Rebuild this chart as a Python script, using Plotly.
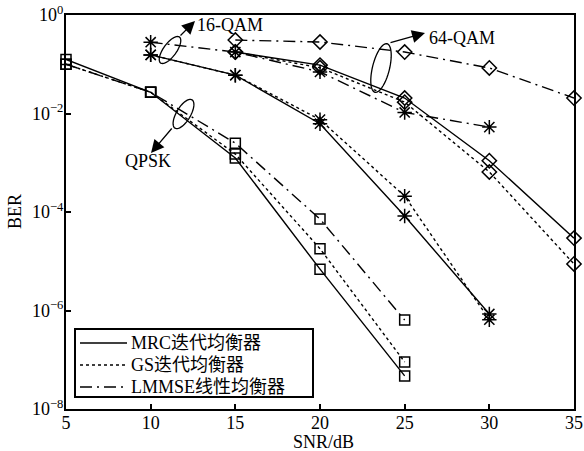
import math
import plotly.graph_objects as go

# SNR grids (dB) for each modulation
QPSK_SNR = [5, 10, 15, 20, 25]
QAM16_SNR = [10, 15, 20, 25, 30]
QAM64_SNR = [15, 20, 25, 30, 35]

# BER curves
QPSK_MRC = [0.125, 0.027, 1.25e-3, 6.9e-6, 4.7e-8]
QPSK_GS = [0.10, 0.027, 1.5e-3, 1.8e-5, 9.0e-8]
QPSK_LMMSE = [0.10, 0.027, 2.5e-3, 7.2e-5, 6.4e-7]

QAM16_MRC = [0.155, 0.060, 6.2e-3, 8.3e-5, 8.5e-7]
QAM16_GS = [0.155, 0.060, 7.5e-3, 2.1e-4, 6.5e-7]
QAM16_LMMSE = [0.28, 0.177, 0.070, 0.0105, 5.3e-3]

QAM64_MRC = [0.177, 0.096, 0.0206, 1.1e-3, 2.95e-5]
QAM64_GS = [0.177, 0.085, 0.017, 6.5e-4, 8.8e-6]
QAM64_LMMSE = [0.31, 0.283, 0.177, 0.084, 0.0206]

METHOD_NAMES = ["MRC迭代均衡器", "GS迭代均衡器", "LMMSE线性均衡器"]
X_TICKS = [5, 10, 15, 20, 25, 30, 35]
Y_TICKS = [1, 1e-2, 1e-4, 1e-6, 1e-8]
Y_TICK_TEXT = ["10<sup>0</sup>", "10<sup>−2</sup>", "10<sup>−4</sup>",
               "10<sup>−6</sup>", "10<sup>−8</sup>"]
X_TITLE = "SNR/dB"
Y_TITLE = "BER"

FONT = "Liberation Serif, Times New Roman, Noto Sans CJK SC, serif"
DASHES = ["solid", "3px,3px", "12px,5px,2px,5px"]

W, H = 584, 451
ML, MR, MT, MB = 66, 10, 15, 42
PW, PH = W - ML - MR, H - MT - MB

fig = go.Figure()

groups = [
    (QPSK_SNR, [QPSK_MRC, QPSK_GS, QPSK_LMMSE], "square-open", 10),
    (QAM16_SNR, [QAM16_MRC, QAM16_GS, QAM16_LMMSE], "asterisk-open", 12),
    (QAM64_SNR, [QAM64_MRC, QAM64_GS, QAM64_LMMSE], "diamond-open", 11),
]
for snr, curves, sym, size in groups:
    for ber, dash, name in zip(curves, DASHES, METHOD_NAMES):
        fig.add_trace(go.Scatter(
            x=snr, y=ber, mode="lines+markers", showlegend=False, name=name,
            cliponaxis=False,
            line=dict(color="black", width=1.4, dash=dash),
            marker=dict(symbol=sym, size=size, color="black",
                        line=dict(color="black", width=1.5)),
        ))


def to_paper(px, py):
    return (px - ML) / PW, (H - MB - py) / PH


def ellipse_path(cx, cy, a, b, tilt_deg, n=60):
    th = math.radians(tilt_deg)
    pts = []
    for i in range(n):
        t = 2 * math.pi * i / n
        u, v = b * math.cos(t), a * math.sin(t)
        px = cx + u * math.cos(th) + v * math.sin(th)
        py = cy + u * math.sin(th) - v * math.cos(th)
        pts.append(to_paper(px, py))
    return "M" + " L".join(f"{x:.5f},{y:.5f}" for x, y in pts) + " Z"


def label(text, px, py, xanchor="center", angle=0):
    x, y = to_paper(px, py)
    return dict(x=x, y=y, xref="paper", yref="paper", text=text,
                showarrow=False, xanchor=xanchor, yanchor="middle",
                textangle=angle,
                font=dict(family=FONT, size=18, color="black"))


shapes = []
for cx, cy, a, b, tilt in [(170, 50, 16, 6.5, 36),
                           (381, 68, 25, 8.5, 14),
                           (183.5, 114, 16.5, 7, 31)]:
    shapes.append(dict(type="path", xref="paper", yref="paper",
                       path=ellipse_path(cx, cy, a, b, tilt),
                       line=dict(color="black", width=1.3)))

annotations = []
for (tx, ty), (hx, hy) in [((179, 37), (195, 21)),
                           ((389, 43), (425, 33)),
                           ((173, 127), (151, 153))]:
    x, y = to_paper(hx, hy)
    annotations.append(dict(x=x, y=y, xref="paper", yref="paper", text="",
                            showarrow=True, ax=tx - hx, ay=ty - hy,
                            arrowhead=2, arrowsize=2.0, arrowwidth=1.3,
                            arrowcolor="black"))

annotations += [label("16-QAM", 195, 25, "left"),
                label("64-QAM", 427, 38, "left"),
                label("QPSK", 148, 161),
                label(X_TITLE, 323, 442),
                label(Y_TITLE, 15, 212, angle=-90)]

# boxed legend: line-style samples with method names
LEG_X0, LEG_Y0, LEG_X1, LEG_Y1 = 75, 329, 313, 397
bx0, by0 = to_paper(LEG_X0, LEG_Y0)
bx1, by1 = to_paper(LEG_X1, LEG_Y1)
shapes.append(dict(type="rect", xref="paper", yref="paper",
                   x0=bx0, y0=by1, x1=bx1, y1=by0,
                   fillcolor="white", line=dict(color="black", width=2),
                   layer="above"))
for i, (name, dash) in enumerate(zip(METHOD_NAMES, DASHES)):
    row_y = 343 + 22 * i
    sx0, sy = to_paper(80, row_y)
    sx1, _ = to_paper(127, row_y)
    shapes.append(dict(type="line", xref="paper", yref="paper",
                       x0=sx0, y0=sy, x1=sx1, y1=sy, layer="above",
                       line=dict(color="black", width=1.4, dash=dash)))
    annotations.append(label(name, 129, row_y, "left"))

fig.update_layout(
    width=W, height=H,
    margin=dict(l=ML, r=MR, t=MT, b=MB, pad=0, autoexpand=False),
    paper_bgcolor="white", plot_bgcolor="white",
    font=dict(family=FONT, size=18, color="black"),
    shapes=shapes, annotations=annotations, showlegend=False,
    xaxis=dict(range=[5, 35], tickvals=X_TICKS, ticks="inside", ticklen=5,
               tickwidth=1.5, tickcolor="black", showline=True, mirror=True,
               linecolor="black", linewidth=2, showgrid=False, zeroline=False,
               automargin=False, ticklabelstandoff=-4,
               tickfont=dict(family=FONT, size=18)),
    yaxis=dict(type="log", range=[-8, 0], tickvals=Y_TICKS,
               ticktext=Y_TICK_TEXT, ticks="inside", ticklen=5,
               tickwidth=1.5, tickcolor="black", showline=True, mirror=True,
               linecolor="black", linewidth=2, showgrid=False, zeroline=False,
               automargin=False, ticklabelstandoff=-3,
               tickfont=dict(family=FONT, size=18)),
)

fig.write_html("out.html")
